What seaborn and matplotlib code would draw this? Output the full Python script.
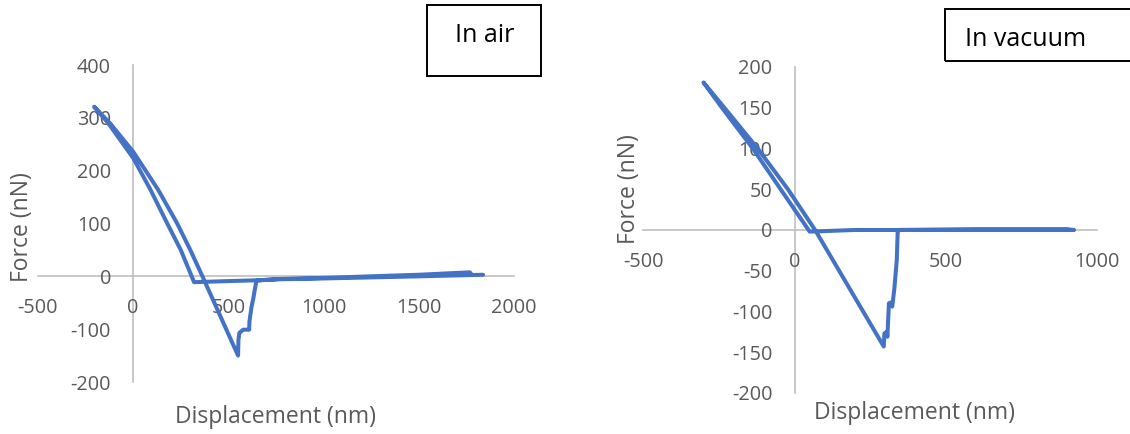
import matplotlib
matplotlib.use("Agg")
import matplotlib.pyplot as plt
import seaborn as sns
from matplotlib.patches import Rectangle

# force-displacement curves (nm, nN)
air_disp = [1838, 1500, 1000, 770, 648, 500, 320, 250, 175, 91, 0, -131, -205,
            -122, 0, 131, 230, 300, 364, 551, 553, 558, 578, 609, 611, 622, 630,
            639, 648, 770, 1000, 1243, 1500, 1768, 1775]
air_force = [3, 0, -4, -5.5, -7.5, -9, -11, 50, 103, 164, 224, 290, 321,
             290, 236, 164, 101, 50, 0, -150, -120, -107, -101, -101, -85, -57, -44,
             -25, -8, -5, -3, 0, 3, 7.6, 5]

vac_disp = [924, 700, 400, 200, 50, -46, -138, -240, -301, -232, -122, -22, 68,
            295, 297, 305, 307, 312, 317, 323, 330, 338, 341, 345, 600, 900, 922]
vac_force = [0, 0, 0, 0, -2, 50, 100, 150, 181, 150, 100, 50, 0,
             -143, -127, -125, -131, -90, -89, -94, -72, -37, -2, 0, 1, 1, 0]

air_xticks = [-500, 0, 500, 1000, 1500, 2000]
air_yticks = [-200, -100, 0, 100, 200, 300, 400]
vac_xticks = [-500, 0, 500, 1000]
vac_yticks = [-200, -150, -100, -50, 0, 50, 100, 150, 200]

sns.set_theme(style="white")
plt.rcParams["font.family"] = ["Open Sans", "DejaVu Sans"]
plt.rcParams["axes.unicode_minus"] = False

blue = "#4472C4"
grey_txt = "#595959"
grey_axis = "#BFBFBF"

fig = plt.figure(figsize=(11.3, 4.34), dpi=100)
ax1 = fig.add_axes([0.0336, 0.1198, 0.4212, 0.7304])
ax2 = fig.add_axes([0.5693, 0.0945, 0.4015, 0.7512])

panels = [
    (ax1, air_disp, air_force, air_xticks, air_yticks, (-0.034, 0.489), (0.5, -0.11)),
    (ax2, vac_disp, vac_force, vac_xticks, vac_yticks, (-0.0315, 0.626), (0.597, -0.061)),
]

for ax, xs, ys, xt, yt, ylab_pos, xlab_pos in panels:
    sns.lineplot(x=xs, y=ys, sort=False, estimator=None, color=blue,
                 linewidth=2.9, ax=ax)
    ax.set_xlim(xt[0], xt[-1])
    ax.set_ylim(yt[0], yt[-1])
    ax.set_xticks(xt)
    ax.set_yticks(yt)
    ax.set_facecolor("none")
    for s in ["top", "right"]:
        ax.spines[s].set_visible(False)
    for s in ["left", "bottom"]:
        ax.spines[s].set_position(("data", 0))
        ax.spines[s].set_color(grey_axis)
        ax.spines[s].set_linewidth(1.2)
        ax.spines[s].set_zorder(0)
    ax.tick_params(axis="x", length=0, pad=15.5, labelsize=14.3, labelcolor=grey_txt)
    ax.tick_params(axis="y", length=0, pad=16, labelsize=14.3, labelcolor=grey_txt)
    ax.set_xlabel("Displacement (nm)", fontsize=16.5, color=grey_txt, va="center")
    ax.set_ylabel("Force (nN)", fontsize=16.5, color=grey_txt, va="center")
    ax.xaxis.set_label_coords(*xlab_pos)
    ax.yaxis.set_label_coords(*ylab_pos)

# label boxes
fig.patches.append(Rectangle((427 / 1130, 1 - 76 / 434), 114 / 1130, 71 / 434,
                             transform=fig.transFigure, fill=False,
                             edgecolor="black", linewidth=1.4))
fig.text(455 / 1130, 1 - 36 / 434, "In air", fontsize=18, color="black",
         ha="left", va="center")
fig.patches.append(Rectangle((945 / 1130, 1 - 61 / 434), 220 / 1130, 52 / 434,
                             transform=fig.transFigure, fill=False,
                             edgecolor="black", linewidth=1.4, clip_on=False))
fig.text(965 / 1130, 1 - 39 / 434, "In vacuum", fontsize=18, color="black",
         ha="left", va="center")

plt.savefig("out.png", dpi=100)
